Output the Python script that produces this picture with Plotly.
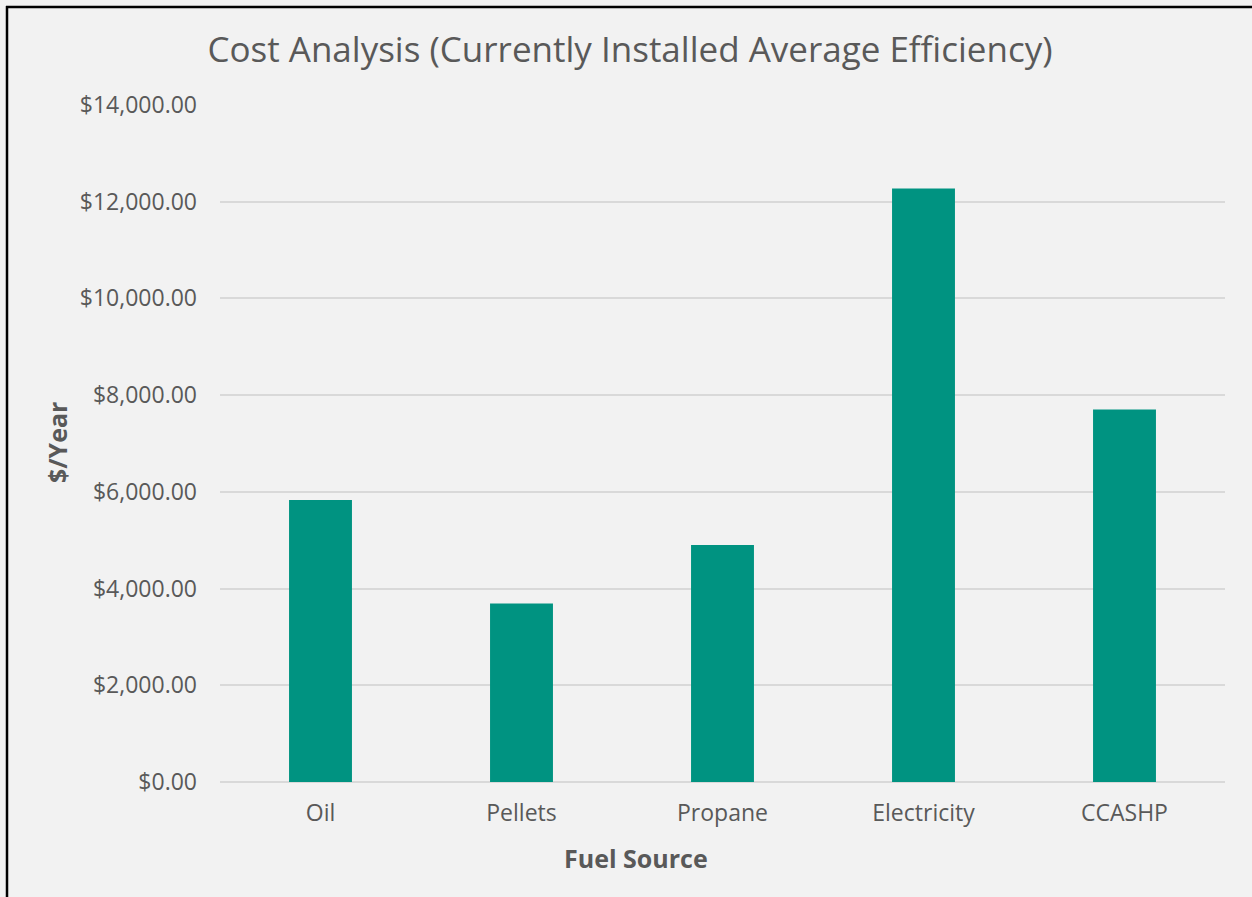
import plotly.graph_objects as go

categories = ["Oil", "Pellets", "Propane", "Electricity", "CCASHP"]
costs = [5832, 3691, 4901, 12273, 7703]
tick_vals = [0, 2000, 4000, 6000, 8000, 10000, 12000, 14000]
tick_text = ["$0.00", "$2,000.00", "$4,000.00", "$6,000.00", "$8,000.00",
             "$10,000.00", "$12,000.00", "$14,000.00"]

W, H = 1252, 897
L, R, T, B = 220, 27, 105, 115
pw, ph = W - L - R, H - T - B

def px(x):
    return (x - L) / pw

def py(y):
    return 1 - (y - T) / ph

fig = go.Figure(go.Bar(x=categories, y=costs, marker=dict(color="#009381", line=dict(width=0))))

font = "Open Sans, Roboto, Liberation Sans, sans-serif"
grey = "#595959"

fig.update_layout(
    width=W, height=H,
    margin=dict(l=L, r=R, t=T, b=B),
    paper_bgcolor="#f2f2f2", plot_bgcolor="#f2f2f2",
    bargap=0.687,
    showlegend=False,
    font=dict(family=font, color=grey),
    title=dict(text="Cost Analysis (Currently Installed Average Efficiency)",
               x=(630) / W, xanchor="center", y=1 - 50 / H, yanchor="middle",
               font=dict(size=35, color=grey, family=font)),
    xaxis=dict(showgrid=False, showline=False, ticks="", tickfont=dict(size=23, color=grey),
               ticklabelstandoff=15),
    yaxis=dict(range=[0, 14000], tickvals=tick_vals, ticktext=tick_text,
               showgrid=True, gridcolor="#d9d9d9", gridwidth=1.5,
               zeroline=True, zerolinecolor="#d9d9d9", zerolinewidth=1.5,
               tickfont=dict(size=23, color=grey), ticks="", ticklabelstandoff=22),
    annotations=[
        dict(text="<b>Fuel Source</b>", x=px(636), y=py(858), xref="paper", yref="paper",
             showarrow=False, font=dict(size=25, color=grey, family=font),
             xanchor="center", yanchor="middle"),
        dict(text="<b>$/Year</b>", x=px(57), y=py(443), xref="paper", yref="paper",
             showarrow=False, textangle=-90, font=dict(size=25, color=grey, family=font),
             xanchor="center", yanchor="middle"),
    ],
    shapes=[
        dict(type="line", xref="paper", yref="paper", x0=px(7), x1=px(7), y0=py(6), y1=py(900),
             line=dict(color="black", width=2.5)),
        dict(type="line", xref="paper", yref="paper", x0=px(6), x1=px(1260), y0=py(7), y1=py(7),
             line=dict(color="black", width=2.5)),
    ],
)

fig.write_html("out.html")
